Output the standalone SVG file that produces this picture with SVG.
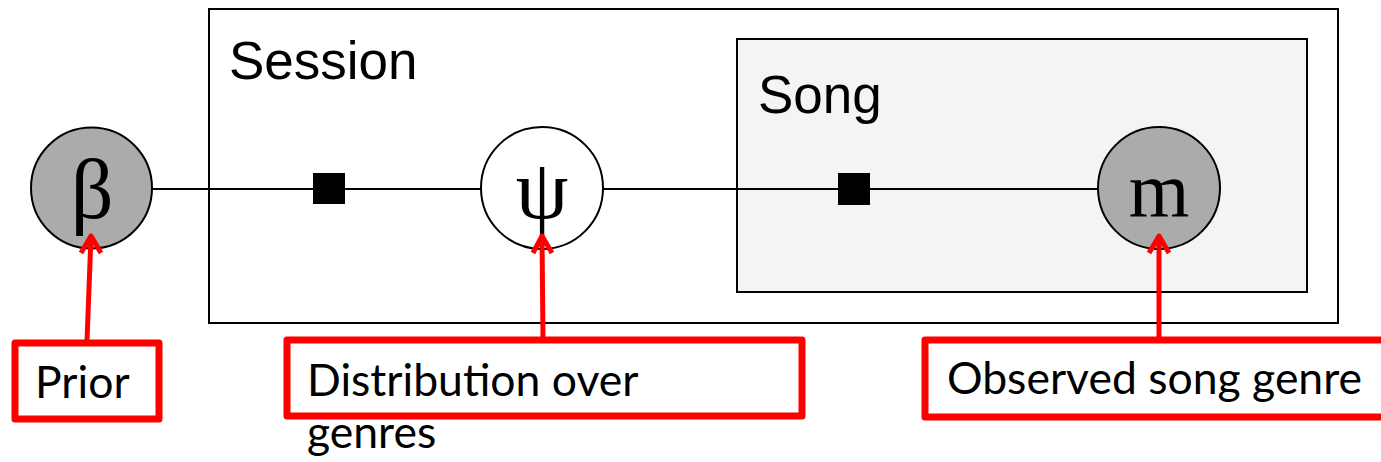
<svg xmlns="http://www.w3.org/2000/svg" width="1381" height="462" viewBox="0 0 1381 462">
<style>
.plate{stroke:#000;stroke-width:2}
.lbl{font-family:"Liberation Sans",Arial,sans-serif;font-size:53px;fill:#000}
.node{stroke:#000;stroke-width:2}
.sym{font-family:"Liberation Serif","Times New Roman",serif;fill:#000;text-anchor:middle}
.edge{stroke:#000;stroke-width:2;fill:none}
.fac{fill:#000}
.red{stroke:#ff0000;stroke-width:5;fill:none;stroke-linejoin:round}
.box{stroke:#ff0000;stroke-width:7;fill:none;stroke-linejoin:round}
.ann{font-family:"Lato","Liberation Sans",sans-serif;font-size:44.5px;fill:#000}
</style>
<rect width="1381" height="462" fill="#fff"/>
<g id="session">
<rect class="plate" x="209" y="9" width="1129" height="314" fill="#fff"/>
<text class="lbl" x="229" y="79">Session</text>
</g>
<g id="song">
<rect class="plate" x="737" y="39" width="570" height="253" fill="#f4f4f4"/>
<text class="lbl" x="758" y="113">Song</text>
</g>
<g id="connectors">
<line class="edge" x1="152" y1="189" x2="481" y2="189"/>
<line class="edge" x1="603" y1="189" x2="1098" y2="189"/>
<rect class="fac" x="313" y="173" width="32" height="31"/>
<rect class="fac" x="838" y="173" width="32" height="32"/>
</g>
<g id="beta">
<circle class="node" cx="91.5" cy="188" r="60.5" fill="#ababab"/>
<text class="sym" x="92" y="218" font-size="84">β</text>
</g>
<g id="psi">
<circle class="node" cx="542" cy="188" r="61" fill="#fff"/>
<text class="sym" x="542" y="218" font-size="84">ψ</text>
</g>
<g id="m">
<circle class="node" cx="1159" cy="188" r="61" fill="#ababab"/>
<text class="sym" x="1159" y="216" font-size="78">m</text>
</g>
<g id="annotations">
<g id="prior">
<rect class="box" x="15" y="343" width="144" height="76"/>
<text class="ann" x="35" y="398">Prior</text>
<path class="red" d="M87 341 L91 236 M81 253 L91 236 L101 253"/>
</g>
<g id="dist">
<rect class="box" x="287" y="340" width="515" height="76"/>
<text class="ann" x="307" y="396">Distribution over</text>
<text class="ann" x="307" y="448">genres</text>
<path class="red" d="M543 339 L542 236 M533 253 L542 236 L552 253"/>
</g>
<g id="obs">
<rect class="box" x="925" y="340" width="470" height="77"/>
<text class="ann" x="947" y="394">Observed song genre</text>
<path class="red" d="M1159 339 L1159 236 M1149 253 L1159 236 L1169 253"/>
</g>
</g>
</svg>
